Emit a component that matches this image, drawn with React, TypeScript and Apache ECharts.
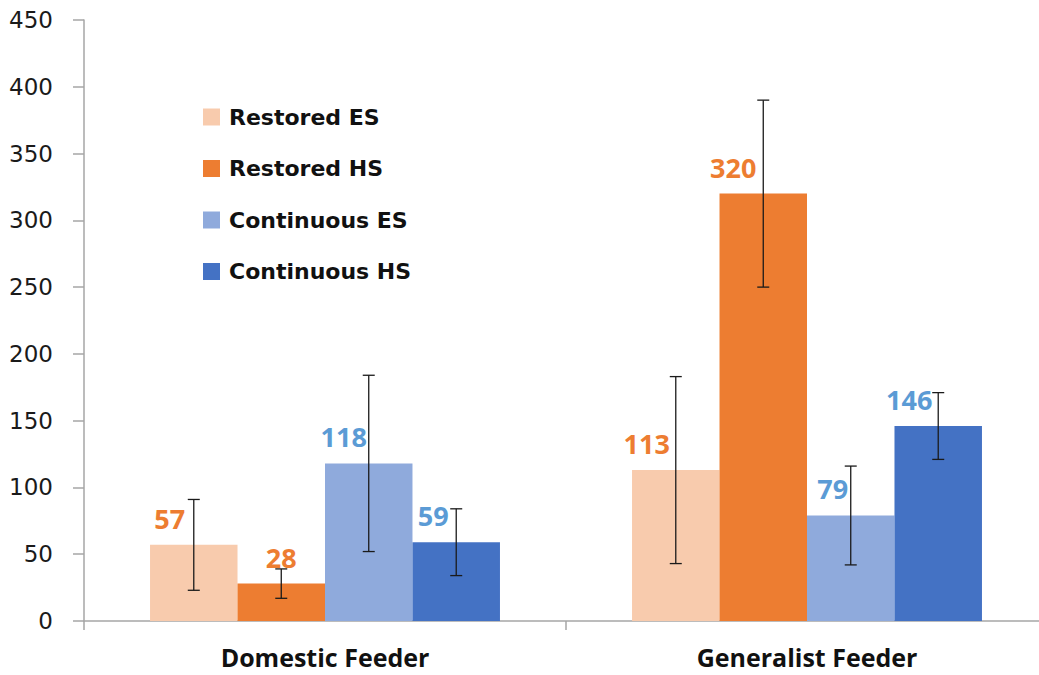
import React, { useEffect, useRef } from "react";
import * as echarts from "echarts";

const categories = ["Domestic Feeder", "Generalist Feeder"];
const seriesNames = ["Restored ES", "Restored HS", "Continuous ES", "Continuous HS"];
const restoredES = [57, 113];
const restoredHS = [28, 320];
const continuousES = [118, 79];
const continuousHS = [59, 146];
// symmetric error (± value)
const restoredESErr = [34, 70];
const restoredHSErr = [11, 70];
const continuousESErr = [66, 37];
const continuousHSErr = [25, 25];
const yTicks = [0, 50, 100, 150, 200, 250, 300, 350, 400, 450];

const barColors = ["#F8CBAD", "#ED7D31", "#8FAADC", "#4472C4"];
const labelColors = ["#ED7D31", "#ED7D31", "#5B9BD5", "#5B9BD5"];
// horizontal label shifts (style), per series per category
const labelShift = [
  [-24, -29],
  [0, -30],
  [-25, -18],
  [-23, -29],
];

const CAT_GAP = 0.274;

export default function App() {
  const ref = useRef<HTMLDivElement>(null);
  useEffect(() => {
    if (!ref.current) return;
    const chart = echarts.init(ref.current, null, { renderer: "svg" });
    const values = [restoredES, restoredHS, continuousES, continuousHS];
    const errs = [restoredESErr, restoredHSErr, continuousESErr, continuousHSErr];

    const barSeries = values.map((vals, si) => ({
      name: seriesNames[si],
      type: "bar",
      barGap: "0%",
      barCategoryGap: CAT_GAP * 100 + "%",
      itemStyle: { color: barColors[si] },
      data: vals.map((v, ci) => ({
        value: v,
        label: { offset: [labelShift[si][ci], 0] },
      })),
      label: {
        show: true,
        position: "top",
        distance: 13,
        color: labelColors[si],
        fontFamily: "Open Sans",
        fontWeight: "bold",
        fontSize: 27,
      },
      z: 2,
    }));

    const errorSeries = values.map((vals, si) => ({
      type: "custom",
      name: seriesNames[si] + " err",
      silent: true,
      z: 5,
      data: vals.map((v, ci) => [ci, v - errs[si][ci], v + errs[si][ci]]),
      renderItem: (params: any, api: any) => {
        const ci = api.value(0);
        const lo = api.coord([ci, api.value(1)]);
        const hi = api.coord([ci, api.value(2)]);
        const catW = api.size([1, 0])[0];
        const barW = (catW * (1 - CAT_GAP)) / 4;
        const x = lo[0] + (si - 1.5) * barW;
        const cap = 6;
        const style = { stroke: "#1a1a1a", lineWidth: 1.3 };
        return {
          type: "group",
          children: [
            { type: "line", shape: { x1: x, y1: lo[1], x2: x, y2: hi[1] }, style },
            { type: "line", shape: { x1: x - cap, y1: lo[1], x2: x + cap, y2: lo[1] }, style },
            { type: "line", shape: { x1: x - cap, y1: hi[1], x2: x + cap, y2: hi[1] }, style },
          ],
        };
      },
    }));

    chart.setOption({
      animation: false,
      backgroundColor: "#ffffff",
      grid: { left: 84, right: 0, top: 20, bottom: 54 },
      legend: {
        data: seriesNames,
        orient: "vertical",
        left: 198,
        top: 101,
        itemWidth: 17,
        itemHeight: 17,
        itemGap: 29.5,
        icon: "rect",
        textStyle: {
          fontFamily: "DejaVu Sans",
          fontWeight: "bold",
          fontSize: 22,
          color: "#111111",
          padding: [0, 0, 0, 4],
        },
      },
      xAxis: {
        type: "category",
        data: categories,
        axisLine: { lineStyle: { color: "#a6a6a6", width: 1.5 } },
        axisTick: { show: true, length: 9, lineStyle: { color: "#a6a6a6", width: 1.5 } },
        axisLabel: {
          margin: 23,
          fontFamily: "Open Sans",
          fontWeight: "bold",
          fontSize: 25,
          color: "#111111",
        },
      },
      yAxis: {
        type: "value",
        min: 0,
        max: 450,
        interval: 50,
        splitLine: { show: false },
        axisLine: { show: true, lineStyle: { color: "#a6a6a6", width: 1.5 } },
        axisTick: { show: true, length: 11, lineStyle: { color: "#a6a6a6", width: 1.5 } },
        axisLabel: {
          margin: 31,
          fontFamily: "DejaVu Sans",
          fontSize: 23,
          color: "#1a1a1a",
          formatter: (v: number) => (yTicks.includes(v) ? String(v) : ""),
        },
      },
      series: [...barSeries, ...errorSeries],
    });
    return () => chart.dispose();
  }, []);
  return (
    <div style={{ position: "fixed", left: 0, top: 0, width: 1039, height: 675, overflow: "hidden", background: "#fff" }}>
      <div ref={ref} style={{ width: 1048, height: 675 }} />
    </div>
  );
}
